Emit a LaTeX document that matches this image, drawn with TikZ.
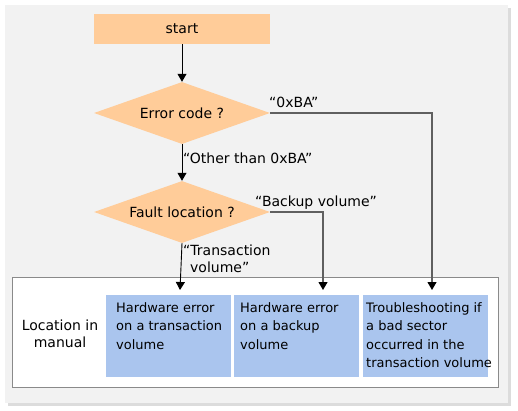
\documentclass[tikz,border=0pt]{standalone}
\usepackage{fontspec}
\setmainfont{DejaVu Sans}
\usetikzlibrary{shapes.geometric,arrows.meta}
\definecolor{panel}{HTML}{F2F2F2}
\definecolor{shadowc}{HTML}{DCDCDC}
\definecolor{orangefill}{HTML}{FFCC99}
\definecolor{bluefill}{HTML}{AAC5EE}
\definecolor{framec}{HTML}{8A8A8A}
\definecolor{linec}{HTML}{606060}
\tikzset{
  txt/.style={font=\fontsize{13}{18.5}\selectfont},
  bigtxt/.style={font=\fontsize{14}{17}\selectfont},
  startbox/.style={rectangle, fill=orangefill, minimum width=176pt, minimum height=30pt, inner sep=0pt, bigtxt},
  decision/.style={diamond, fill=orangefill, shape aspect=2.84, minimum width=176pt, minimum height=62pt, inner sep=0pt, bigtxt},
  bluebox/.style={rectangle, fill=bluefill, minimum width=125pt, minimum height=82pt, inner sep=0pt, anchor=north west},
  boxtext/.style={txt, anchor=north west, align=left, inner sep=0pt},
  lbl/.style={bigtxt, inner sep=0pt, anchor=base west},
  flow/.style={draw=black, line width=0.9pt, -{Triangle[length=8pt,width=9pt]}},
  flowg/.style={draw=linec, line width=1.1pt, -{Triangle[length=8pt,width=9pt,fill=black,color=black]}},
}
\begin{document}
\begin{tikzpicture}[x=1pt,y=-1pt]
\useasboundingbox (0,0) rectangle (518,411);
% panel with shadow
\fill[shadowc] (8,8) rectangle (511,406);
\fill[panel] (5,5) rectangle (508,403);
% outer frame
\node[draw=framec, line width=0.9pt, fill=white, minimum width=486pt, minimum height=110pt, inner sep=0pt, anchor=north west] (frame) at (12,277) {};
% nodes
\node[startbox] (start) at (182,29) {start};
\node[decision] (d1) at (182,113) {Error code ?};
\node[decision] (d2) at (182,212) {Fault location ?};
\node[bluebox] (b1) at (106,295) {};
\node[bluebox] (b2) at (234,295) {};
\node[bluebox] (b3) at (363,295) {};
\node[boxtext] (t1) at (116,302) {Hardware error\\on a transaction\\volume};
\node[boxtext] (t2) at (240,302) {Hardware error\\on a backup\\volume};
\node[boxtext] (t3) at (366,302) {Troubleshooting if\\a bad sector\\occurred in the\\transaction volume};
\node[bigtxt, align=center, inner sep=0pt] (loc) at (60,334) {Location in\\manual};
% arrow end points
\coordinate (e1) at (180,290);
\coordinate (e2) at (323,290);
\coordinate (e3) at (432,290);
% connectors
\draw[flow] (start.south) -- (d1.north);
\draw[flow] (d1.south) -- (d2.north);
\draw[flow] (d2.south) -- (e1);
\draw[flowg] (d1.east) -- (d1.east -| e3) -- (e3);
\draw[flowg] (d2.east) -- (d2.east -| e2) -- (e2);
% labels
\node[lbl] (l1) at (269,108) {“0xBA”};
\node[lbl] (l2) at (183,164) {“Other than 0xBA”};
\node[lbl] (l3) at (255,207) {“Backup volume”};
\node[bigtxt, anchor=north west, align=left, inner sep=0pt] (l4) at (183,245) {“Transaction\\\hspace*{7pt}volume”};
\end{tikzpicture}
\end{document}
